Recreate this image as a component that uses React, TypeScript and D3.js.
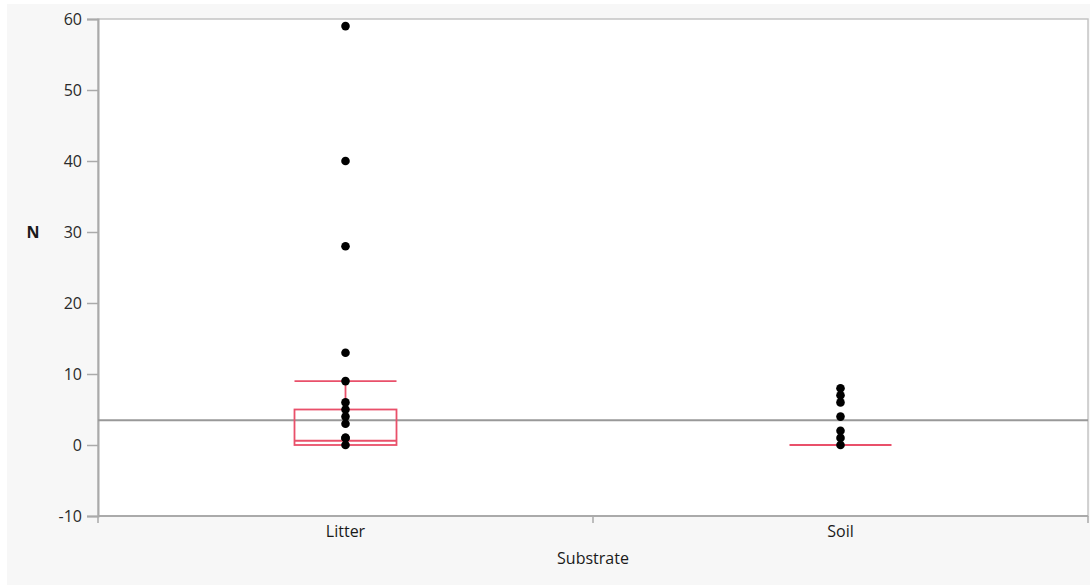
import React, { useRef, useEffect } from "react";
import * as d3 from "d3";

// categories and observed values
const substrates = ["Litter", "Soil"];
const litterValues = [59, 40, 28, 13, 9, 6, 5, 4, 3, 1, 1, 0];
const soilValues = [8, 7, 6, 4, 2, 1, 0];
// box summaries: [q1, median, q3, upperWhisker]
const litterBox = [0, 0.6, 5, 9];
const soilBox = [0, 0, 0, 0];
const grandMean = 3.5;
const yTicks = [-10, 0, 10, 20, 30, 40, 50, 60];

const App = () => {
  const ref = useRef<SVGSVGElement>(null);

  useEffect(() => {
    const width = 1090;
    const height = 585;
    const margin = { left: 98, right: 2, top: 19, bottom: 69 };
    const font = "'Open Sans', 'Noto Sans', sans-serif";
    const red = "#e9506a";

    const svg = d3.select(ref.current);
    svg.selectAll("*").remove();

    svg
      .append("rect")
      .attr("x", 7)
      .attr("y", 4)
      .attr("width", width - 7)
      .attr("height", height - 4)
      .attr("fill", "#f7f7f7");

    const x = d3
      .scaleBand()
      .domain(substrates)
      .range([margin.left, width - margin.right]);
    const y = d3
      .scaleLinear()
      .domain([-10, 60])
      .range([height - margin.bottom, margin.top]);

    // plot frame
    svg
      .append("rect")
      .attr("x", margin.left)
      .attr("y", margin.top)
      .attr("width", width - margin.left - margin.right)
      .attr("height", height - margin.top - margin.bottom)
      .attr("fill", "#fff")
      .attr("stroke", "#c4c4c4")
      .attr("stroke-width", 1.5);

    // y axis
    const yAxis = d3
      .axisLeft(y)
      .tickValues(yTicks)
      .tickSize(11)
      .tickPadding(5)
      .tickFormat((d) => String(d));
    const gy = svg
      .append("g")
      .attr("transform", `translate(${margin.left},0)`)
      .call(yAxis);
    gy.select(".domain").attr("stroke", "#aaa").attr("stroke-width", 2);
    gy.selectAll(".tick line").attr("stroke", "#aaa").attr("stroke-width", 1.5);
    gy.selectAll(".tick text")
      .attr("font-family", font)
      .attr("font-size", 16)
      .attr("fill", "#2a2a2a");

    // x axis
    const gx = svg
      .append("g")
      .attr("transform", `translate(0,${height - margin.bottom})`);
    gx.append("line")
      .attr("x1", margin.left)
      .attr("x2", width - margin.right)
      .attr("stroke", "#aaa")
      .attr("stroke-width", 2);
    const edges = [margin.left, x("Soil"), width - margin.right];
    gx.selectAll(".edge")
      .data(edges)
      .enter()
      .append("line")
      .attr("x1", (d) => d)
      .attr("x2", (d) => d)
      .attr("y1", 0)
      .attr("y2", 7)
      .attr("stroke", "#aaa")
      .attr("stroke-width", 1.5);
    gx.selectAll(".lbl")
      .data(substrates)
      .enter()
      .append("text")
      .attr("x", (d) => x(d) + x.bandwidth() / 2)
      .attr("y", 21)
      .attr("text-anchor", "middle")
      .attr("font-family", font)
      .attr("font-size", 16)
      .attr("fill", "#1a1a1a")
      .text((d) => d);

    svg
      .append("text")
      .attr("x", (margin.left + width - margin.right) / 2)
      .attr("y", 564)
      .attr("text-anchor", "middle")
      .attr("font-family", font)
      .attr("font-size", 16)
      .attr("fill", "#1a1a1a")
      .text("Substrate");

    svg
      .append("text")
      .attr("x", 33)
      .attr("y", y(30) + 6)
      .attr("text-anchor", "middle")
      .attr("font-family", font)
      .attr("font-size", 16)
      .attr("font-weight", "bold")
      .attr("fill", "#1a1a1a")
      .text("N");

    // grand mean line
    svg
      .append("line")
      .attr("x1", margin.left)
      .attr("x2", width - margin.right)
      .attr("y1", y(grandMean))
      .attr("y2", y(grandMean))
      .attr("stroke", "#999")
      .attr("stroke-width", 2);

    // box plots
    const boxW = 102;
    const boxes = [
      { cat: "Litter", b: litterBox },
      { cat: "Soil", b: soilBox },
    ];
    boxes.forEach(({ cat, b }) => {
      const cx = x(cat) + x.bandwidth() / 2;
      const g = svg
        .append("g")
        .attr("fill", "none")
        .attr("stroke", red)
        .attr("stroke-width", 1.8);
      if (b[2] > b[0]) {
        g.append("rect")
          .attr("x", cx - boxW / 2)
          .attr("y", y(b[2]))
          .attr("width", boxW)
          .attr("height", y(b[0]) - y(b[2]));
        g.append("line")
          .attr("x1", cx - boxW / 2)
          .attr("x2", cx + boxW / 2)
          .attr("y1", y(b[1]))
          .attr("y2", y(b[1]));
        g.append("line")
          .attr("x1", cx)
          .attr("x2", cx)
          .attr("y1", y(b[2]))
          .attr("y2", y(b[3]));
      }
      g.append("line")
        .attr("x1", cx - boxW / 2)
        .attr("x2", cx + boxW / 2)
        .attr("y1", y(b[3]))
        .attr("y2", y(b[3]));
    });

    // points
    const pts = [
      ...litterValues.map((v) => ({ cat: "Litter", v })),
      ...soilValues.map((v) => ({ cat: "Soil", v })),
    ];
    svg
      .selectAll(".pt")
      .data(pts)
      .enter()
      .append("circle")
      .attr("cx", (d) => x(d.cat) + x.bandwidth() / 2)
      .attr("cy", (d) => y(d.v))
      .attr("r", 4.3)
      .attr("fill", "#000");
  }, []);

  return (
    <svg
      ref={ref}
      width={1090}
      height={585}
      style={{ position: "absolute", left: 0, top: 0 }}
    />
  );
};

export default App;
